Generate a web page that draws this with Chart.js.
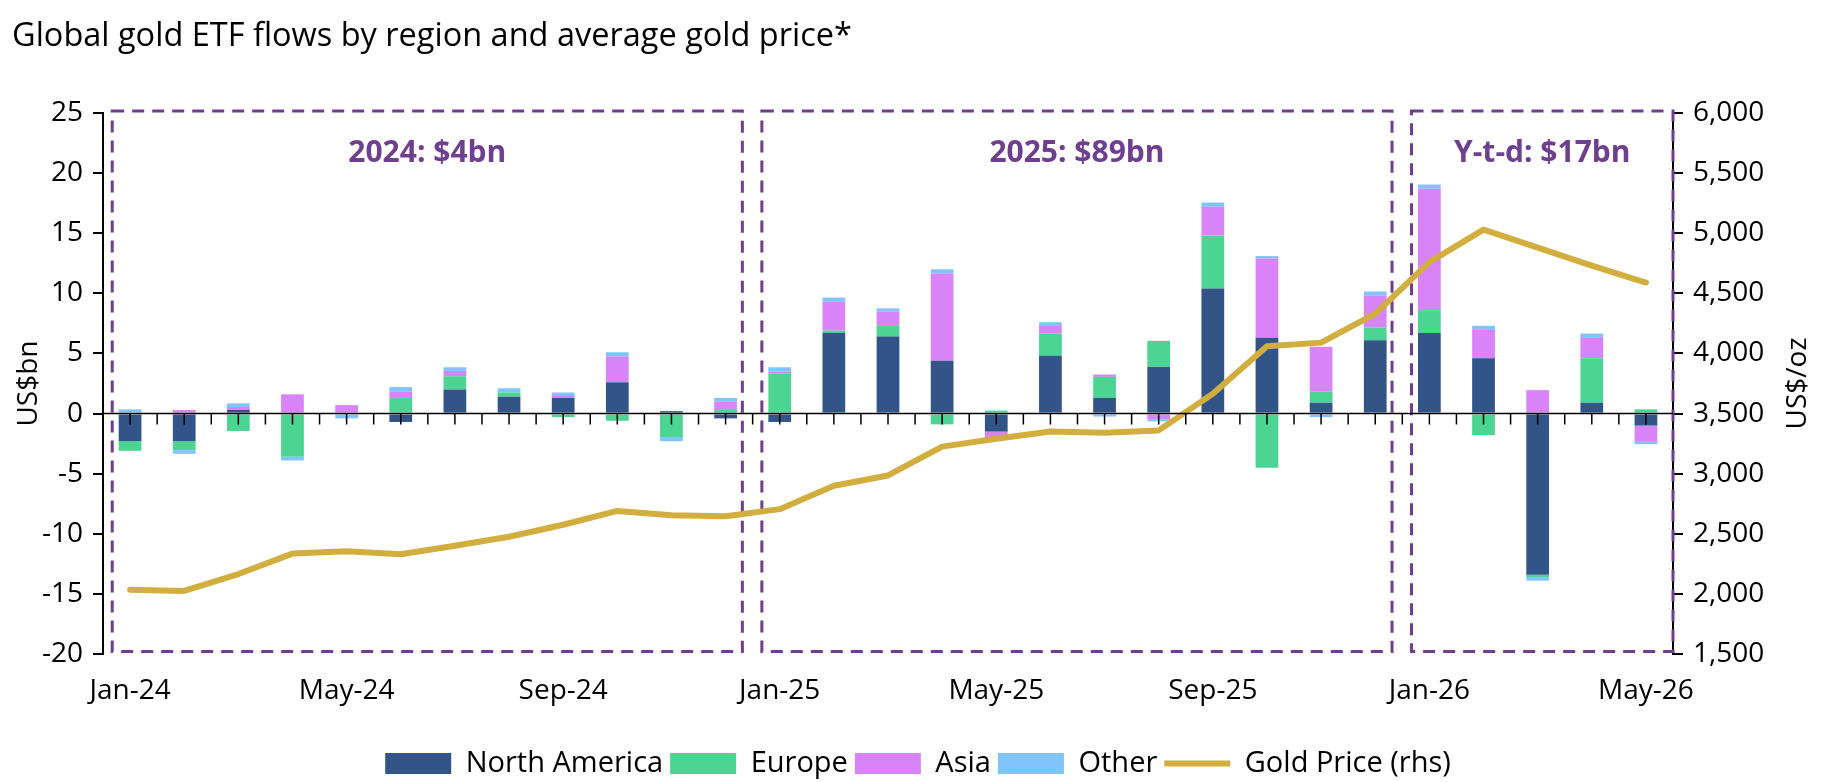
<!DOCTYPE html>
<html>
<head>
<meta charset="utf-8">
<script src="https://cdn.jsdelivr.net/npm/chart.js@4/dist/chart.umd.min.js"></script>
<style>
  html, body { margin: 0; padding: 0; background: #ffffff; }
  #wrap { width: 1824px; height: 782px; position: relative; }
</style>
</head>
<body>
<div id="wrap"><canvas id="c" width="1824" height="782"></canvas></div>
<script>
// ---- Data ----
const months = ['Jan-24','Feb-24','Mar-24','Apr-24','May-24','Jun-24','Jul-24','Aug-24','Sep-24','Oct-24','Nov-24','Dec-24',
                'Jan-25','Feb-25','Mar-25','Apr-25','May-25','Jun-25','Jul-25','Aug-25','Sep-25','Oct-25','Nov-25','Dec-25',
                'Jan-26','Feb-26','Mar-26','Apr-26','May-26'];
const northAmerica = [-2.3, -2.3, 0.3, 0.0, 0.0, -0.7, 2.0, 1.4, 1.3, 2.6, 0.2, -0.4,
                      -0.7, 6.7, 6.4, 4.4, -1.5, 4.8, 1.3, 3.9, 10.4, 6.3, 0.9, 6.1,
                      6.7, 4.6, -13.4, 0.9, -1.0];
const europe = [-0.8, -0.75, -1.45, -3.6, 0.0, 1.3, 1.1, 0.35, -0.3, -0.6, -1.95, 0.3,
                3.35, 0.2, 0.95, -0.9, 0.25, 1.85, 1.75, 2.15, 4.4, -4.5, 0.95, 1.05,
                1.9, -1.8, -0.2, 3.7, 0.35];
const asia = [0.0, 0.3, 0.25, 1.6, 0.7, 0.5, 0.45, 0.0, 0.25, 2.15, 0.0, 0.7,
              0.15, 2.4, 1.15, 7.25, -0.55, 0.7, 0.2, -0.5, 2.4, 6.6, 3.7, 2.65,
              10.1, 2.35, 1.95, 1.75, -1.35];
const other = [0.35, -0.3, 0.3, -0.3, -0.4, 0.4, 0.3, 0.35, 0.2, 0.35, -0.35, 0.3,
               0.35, 0.35, 0.25, 0.35, 0.0, 0.25, -0.25, -0.15, 0.35, 0.2, -0.3, 0.35,
               0.35, 0.35, -0.3, 0.3, -0.2];
const goldPrice = [2035, 2025, 2165, 2335, 2355, 2330, 2400, 2475, 2575, 2690, 2655, 2645,
                   2705, 2900, 2985, 3225, 3290, 3350, 3340, 3360, 3665, 4060, 4090, 4330,
                   4760, 5030, 4880, 4730, 4590];
const xTickLabels = ['Jan-24','May-24','Sep-24','Jan-25','May-25','Sep-25','Jan-26','May-26'];
const periodLabels = ['2024: $4bn', '2025: $89bn', 'Y-t-d: $17bn'];
const periodStart = ['Jan-24', 'Jan-25', 'Jan-26'];
const periodEnd = ['Dec-24', 'Dec-25', 'May-26'];

// ---- Styles ----
const C_NA = '#325487', C_EU = '#4CD493', C_AS = '#D884F8', C_OT = '#80C4FC', C_GOLD = '#D2AE3E', C_PURPLE = '#6F3F8F';
const FONT = "'Open Sans', 'Noto Sans', sans-serif";
Chart.defaults.font.family = FONT;
Chart.defaults.color = '#000';

// Dashed period boxes with labels (drawn through the scales)
const periodBoxes = {
  id: 'periodBoxes',
  beforeDatasetsDraw(chart) {
    const {ctx, scales: {x, y}} = chart;
    const half = x.getPixelForValue(1) - x.getPixelForValue(0);
    const top = y.getPixelForValue(25.17), bottom = y.getPixelForValue(-19.8);
    ctx.save();
    ctx.strokeStyle = C_PURPLE;
    ctx.lineWidth = 3;
    ctx.setLineDash([12, 8]);
    periodLabels.forEach((lab, i) => {
      const si = months.indexOf(periodStart[i]), ei = months.indexOf(periodEnd[i]);
      const left = x.getPixelForValue(si) - 0.33 * half;
      const right = (i === periodLabels.length - 1) ? chart.chartArea.right : x.getPixelForValue(ei) + 0.31 * half;
      ctx.strokeRect(left, top, right - left, bottom - top);
      ctx.save();
      ctx.setLineDash([]);
      ctx.fillStyle = C_PURPLE;
      ctx.font = 'bold 30px ' + FONT;
      ctx.textAlign = 'center';
      ctx.textBaseline = 'middle';
      ctx.fillText(lab, (left + right) / 2, y.getPixelForValue(21.6));
      ctx.restore();
    });
    ctx.restore();
  },
  afterDatasetsDraw(chart) {
    const {ctx, scales: {x, y}, chartArea} = chart;
    const y0 = y.getPixelForValue(0);
    ctx.save();
    ctx.strokeStyle = '#000';
    ctx.lineWidth = 1.5;
    ctx.beginPath();
    ctx.moveTo(chartArea.left, y0);
    ctx.lineTo(chartArea.right, y0);
    const step = x.getPixelForValue(1) - x.getPixelForValue(0);
    for (let i = 0; i < months.length; i++) {
      const cx = x.getPixelForValue(i);
      ctx.moveTo(cx, y0); ctx.lineTo(cx, y0 + 11);
      if (i < months.length - 1) {
        ctx.moveTo(cx + step / 2, y0); ctx.lineTo(cx + step / 2, y0 + 11);
      }
    }
    ctx.stroke();
    ctx.restore();
  },
  afterDraw(chart) {
    const {ctx, scales: {y2}} = chart;
    ctx.save();
    ctx.translate(y2.right - 26, (y2.top + y2.bottom) / 2);
    ctx.rotate(-Math.PI / 2);
    ctx.fillStyle = '#000';
    ctx.font = '28px ' + FONT;
    ctx.textAlign = 'center';
    ctx.textBaseline = 'middle';
    ctx.fillText('US$/oz', 0, 0);
    ctx.restore();
  }
};

const barDs = (label, data, color) => ({
  type: 'bar', label, data, backgroundColor: color, borderColor: color, borderWidth: 0,
  stack: 'flows', yAxisID: 'y', order: 1, pointStyle: 'rect',
  categoryPercentage: 1.0, barPercentage: 0.42
});

new Chart(document.getElementById('c'), {
  type: 'bar',
  data: {
    labels: months,
    datasets: [
      barDs('North America', northAmerica, C_NA),
      barDs('Europe', europe, C_EU),
      barDs('Asia', asia, C_AS),
      barDs('Other', other, C_OT),
      {
        type: 'line', label: 'Gold Price (rhs)', data: goldPrice, yAxisID: 'y2',
        borderColor: C_GOLD, backgroundColor: C_GOLD, borderWidth: 6,
        pointRadius: 0, tension: 0, borderJoinStyle: 'round', borderCapStyle: 'round',
        order: 0, pointStyle: 'line'
      }
    ]
  },
  options: {
    responsive: false,
    animation: false,
    layout: { padding: { left: 12, right: 0, top: 0, bottom: -6 } },
    plugins: {
      title: {
        display: true, text: 'Global gold ETF flows by region and average gold price*',
        align: 'start', color: '#000',
        font: { size: 32.5, weight: 'normal', family: FONT },
        padding: { top: 17, bottom: 57 }
      },
      legend: {
        position: 'bottom',
        labels: {
          usePointStyle: true, pointStyleWidth: 66, boxHeight: 21,
          padding: 7, color: '#000', font: { size: 29, family: FONT },
          sort: (a, b) => a.datasetIndex - b.datasetIndex
        }
      },
      tooltip: { enabled: false }
    },
    scales: {
      x: {
        stacked: true,
        offset: true,
        grid: { display: false, drawTicks: false },
        border: { display: false },
        ticks: {
          autoSkip: false, maxRotation: 0, minRotation: 0, padding: 20,
          color: '#000', font: { size: 28, family: FONT },
          callback: (v, i) => xTickLabels.includes(months[i]) ? months[i] : ''
        },
        afterFit: (s) => { s.height = 88; }
      },
      y: {
        stacked: true, position: 'left', min: -20, max: 25,
        ticks: { stepSize: 5, padding: 10, color: '#000', font: { size: 28, family: FONT } },
        grid: { drawOnChartArea: false, drawTicks: true, tickLength: 10, color: '#000', lineWidth: 2 },
        border: { display: true, color: '#000', width: 2 },
        title: { display: true, text: 'US$bn', color: '#000', font: { size: 28, family: FONT }, padding: 0 },
        afterFit: (s) => { s.width = 91; }
      },
      y2: {
        position: 'right', min: 1500, max: 6000,
        ticks: { stepSize: 500, padding: 10, color: '#000', font: { size: 28, family: FONT },
                 callback: (v) => v.toLocaleString('en-US') },
        grid: { drawOnChartArea: false, drawTicks: true, tickLength: 10, color: '#000', lineWidth: 2 },
        border: { display: true, color: '#000', width: 2 },
        afterFit: (s) => { s.width = 151; }
      }
    }
  },
  plugins: [periodBoxes]
});
</script>
</body>
</html>
